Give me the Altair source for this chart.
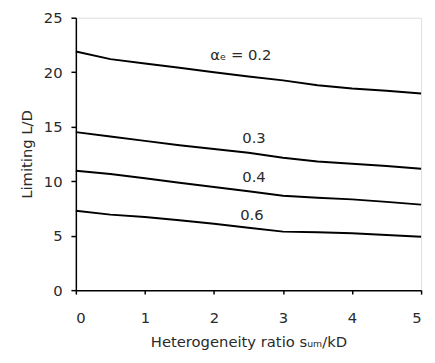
import altair as alt
import pandas as pd

x_vals = [0, 0.5, 1, 1.5, 2, 2.5, 3, 3.5, 4, 4.5, 5]
s02 = [21.9, 21.2, 20.8, 20.4, 20.0, 19.6, 19.25, 18.8, 18.5, 18.3, 18.05]
s03 = [14.5, 14.1, 13.7, 13.3, 12.95, 12.6, 12.15, 11.8, 11.6, 11.4, 11.15]
s04 = [10.95, 10.65, 10.27, 9.85, 9.46, 9.07, 8.66, 8.48, 8.33, 8.1, 7.85]
s06 = [7.28, 6.93, 6.72, 6.42, 6.09, 5.73, 5.37, 5.31, 5.22, 5.07, 4.9]
series_names = ["0.2", "0.3", "0.4", "0.6"]

label_texts = ["αₑ = 0.2", "0.3", "0.4", "0.6"]
label_x = [2.39, 2.58, 2.58, 2.55]
label_y = [21.55, 13.94, 10.36, 6.93]

rows = []
for name, vals in zip(series_names, [s02, s03, s04, s06]):
    for xv, yv in zip(x_vals, vals):
        rows.append({"x": xv, "y": yv, "s": name})
df = pd.DataFrame(rows)
lab = pd.DataFrame({"x": label_x, "y": label_y, "t": label_texts})

FONT = "DejaVu Sans"
TXT = "#2a2a2a"

xs = alt.X("x:Q", scale=alt.Scale(domain=[0, 5], nice=False),
           axis=alt.Axis(title="Heterogeneity ratio sᵤₘ/kD", values=[0, 1, 2, 3, 4, 5],
                         grid=False, domainColor="black", domainWidth=1.5,
                         tickColor="black", tickWidth=1.5, tickSize=4,
                         labelPadding=17, labelFontSize=15, labelFont=FONT,
                         labelColor=TXT, titleFont=FONT, titleFontSize=15,
                         titleFontWeight="normal", titleColor=TXT, titlePadding=9,
                         format="d"))
ys = alt.Y("y:Q", scale=alt.Scale(domain=[0, 25], nice=False),
           axis=alt.Axis(title="Limiting L/D", values=[0, 5, 10, 15, 20, 25],
                         grid=False, domainColor="black", domainWidth=1.5,
                         tickColor="black", tickWidth=1.5, tickSize=5,
                         labelPadding=9, labelFontSize=15, labelFont=FONT,
                         labelColor=TXT, titleFont=FONT, titleFontSize=15,
                         titleFontWeight="normal", titleColor=TXT, titlePadding=9))

lines = alt.Chart(df).mark_line(color="black", strokeWidth=2).encode(
    x=xs, y=ys, detail="s:N")

texts = alt.Chart(lab).mark_text(font=FONT, fontSize=15, color=TXT).encode(
    x="x:Q", y="y:Q", text="t:N")

chart = (lines + texts).properties(
    width=351, height=277,
    autosize=alt.AutoSizeParams(type="none"),
    padding={"left": 69, "top": 7, "right": 6, "bottom": 60},
).configure_view(stroke=None).configure(background="white")

chart.save("out.html", embed_options={"renderer": "svg", "actions": False})
